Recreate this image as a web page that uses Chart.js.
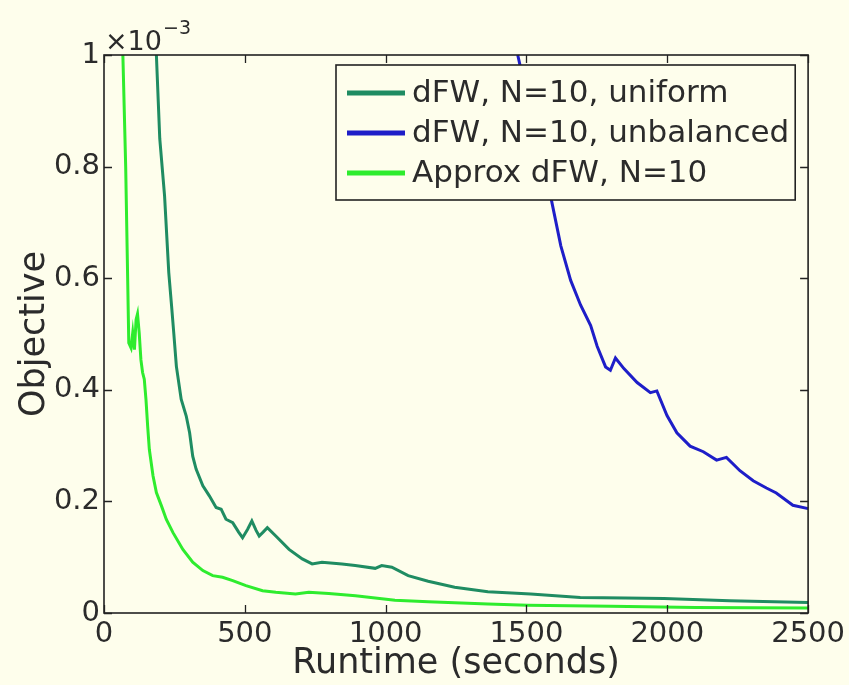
<!DOCTYPE html>
<html>
<head>
<meta charset="utf-8">
<script src="https://cdn.jsdelivr.net/npm/chart.js@4.4.1/dist/chart.umd.min.js"></script>
<style>
html,body{margin:0;padding:0;background:#fefeec;}
canvas{display:block;}
</style>
</head>
<body>
<canvas id="c" width="849" height="685"></canvas>
<script>
// ---- Data (objective values shown in units of 1e-3) ----
const seriesLabels = ['dFW, N=10, uniform', 'dFW, N=10, unbalanced', 'Approx dFW, N=10'];
const seriesColors = ['#1f8c62', '#1e1ec8', '#2eec2e'];

const runtimeUniform = [186, 198, 215, 230, 240, 248, 257, 274, 292, 304, 315, 327, 351, 374, 398, 416, 433, 457, 478, 492, 510, 525, 540, 551, 565, 580, 610, 657, 704, 739, 774, 845, 892, 963, 986, 1022, 1080, 1151, 1245, 1363, 1515, 1691, 1850, 1988, 2221, 2500];
const objUniform     = [1.0, 0.85, 0.748, 0.61, 0.55, 0.50, 0.442, 0.383, 0.353, 0.323, 0.281, 0.258, 0.228, 0.21, 0.189, 0.186, 0.168, 0.162, 0.145, 0.135, 0.15, 0.165, 0.148, 0.138, 0.145, 0.153, 0.138, 0.114, 0.097, 0.088, 0.091, 0.088, 0.085, 0.08, 0.085, 0.082, 0.067, 0.057, 0.046, 0.038, 0.034, 0.028, 0.027, 0.026, 0.022, 0.019];

const runtimeUnbalanced = [1469, 1500, 1550, 1587, 1622, 1657, 1692, 1728, 1751, 1781, 1798, 1816, 1846, 1893, 1940, 1963, 1999, 2034, 2081, 2128, 2175, 2210, 2258, 2305, 2352, 2387, 2446, 2500];
const objUnbalanced     = [1.0, 0.93, 0.83, 0.744, 0.658, 0.596, 0.552, 0.515, 0.478, 0.441, 0.435, 0.457, 0.438, 0.413, 0.395, 0.398, 0.354, 0.323, 0.299, 0.289, 0.274, 0.279, 0.255, 0.237, 0.224, 0.215, 0.193, 0.187];

const runtimeApprox = [67, 77, 84, 88, 96, 102, 108, 114, 119, 125, 131, 137, 143, 149, 155, 161, 174, 186, 204, 221, 245, 280, 315, 351, 386, 421, 457, 504, 563, 610, 680, 727, 798, 893, 1033, 1151, 1363, 1504, 1800, 2100, 2500];
const objApprox     = [1.0, 0.8, 0.6, 0.484, 0.475, 0.502, 0.472, 0.526, 0.536, 0.502, 0.454, 0.431, 0.419, 0.383, 0.335, 0.293, 0.246, 0.216, 0.192, 0.168, 0.144, 0.114, 0.091, 0.076, 0.067, 0.064, 0.058, 0.049, 0.040, 0.037, 0.034, 0.037, 0.035, 0.031, 0.023, 0.020, 0.016, 0.014, 0.012, 0.010, 0.009];

const xTickValues = [0, 500, 1000, 1500, 2000, 2500];
const yTickValues = [0, 0.2, 0.4, 0.6, 0.8, 1];
const xTitle = 'Runtime (seconds)';
const yTitle = 'Objective';
const yMultiplierBase = '×10';
const yMultiplierExp = '−3';

// ---- Styling ----
const BG = '#fefeec';
const INK = '#2b2b2b';
const FONT = '"DejaVu Sans", "Liberation Sans", sans-serif';

function pts(xs, ys){ return xs.map((v,i)=>({x:v, y:ys[i]})); }

const framePlugin = {
  id: 'frame',
  beforeDraw(chart){
    const ctx = chart.ctx;
    ctx.save();
    ctx.fillStyle = BG;
    ctx.fillRect(0, 0, chart.width, chart.height);
    ctx.restore();
  },
  afterDatasetsDraw(chart){
    const ctx = chart.ctx;
    const a = chart.chartArea;
    const xs = chart.scales.x, ys = chart.scales.y;
    ctx.save();
    ctx.strokeStyle = '#222';
    ctx.lineWidth = 1.6;
    ctx.strokeRect(a.left, a.top, a.right - a.left, a.bottom - a.top);
    ctx.beginPath();
    xs.ticks.forEach(t => {
      const px = Math.round(xs.getPixelForValue(t.value)) + 0.5;
      ctx.moveTo(px, a.bottom); ctx.lineTo(px, a.bottom - 8);
      ctx.moveTo(px, a.top); ctx.lineTo(px, a.top + 8);
    });
    ys.ticks.forEach(t => {
      const py = Math.round(ys.getPixelForValue(t.value)) + 0.5;
      ctx.moveTo(a.left, py); ctx.lineTo(a.left + 8, py);
      ctx.moveTo(a.right, py); ctx.lineTo(a.right - 8, py);
    });
    ctx.lineWidth = 1.3;
    ctx.stroke();

    // legend
    const ds = chart.data.datasets;
    ctx.font = '31px ' + FONT;
    let maxW = 0;
    ds.forEach(d => { maxW = Math.max(maxW, ctx.measureText(d.label).width); });
    const bx = a.left + 232, by = a.top + 10;
    const lineLen = 58, padL = 11, gap = 7;
    const bw = padL + lineLen + gap + maxW + 6;
    const bh = 135;
    ctx.fillStyle = BG;
    ctx.fillRect(bx, by, bw, bh);
    ctx.strokeStyle = '#222';
    ctx.lineWidth = 1.6;
    ctx.strokeRect(bx, by, bw, bh);
    ds.forEach((d, i) => {
      const cy = by + 28 + i * 40;
      ctx.beginPath();
      ctx.strokeStyle = d.borderColor;
      ctx.lineWidth = 5;
      ctx.moveTo(bx + padL, cy); ctx.lineTo(bx + padL + lineLen, cy);
      ctx.stroke();
      ctx.fillStyle = INK;
      ctx.textBaseline = 'middle';
      ctx.textAlign = 'left';
      ctx.fillText(d.label, bx + padL + lineLen + gap, cy + 1);
    });

    // x10^-3 multiplier
    ctx.fillStyle = INK;
    ctx.textBaseline = 'alphabetic';
    ctx.textAlign = 'left';
    ctx.font = '27px ' + FONT;
    const mx = a.left + 1, my = a.top - 5;
    ctx.fillText(yMultiplierBase, mx, my);
    const w = ctx.measureText(yMultiplierBase).width;
    ctx.font = '19px ' + FONT;
    ctx.fillText(yMultiplierExp, mx + w + 1, my - 16);
    ctx.restore();
  }
};

function fmt(v){ return String(Math.round(v * 10) / 10); }

new Chart(document.getElementById('c'), {
  type: 'line',
  data: {
    datasets: [
      { label: seriesLabels[0], data: pts(runtimeUniform, objUniform), borderColor: seriesColors[0] },
      { label: seriesLabels[1], data: pts(runtimeUnbalanced, objUnbalanced), borderColor: seriesColors[1] },
      { label: seriesLabels[2], data: pts(runtimeApprox, objApprox), borderColor: seriesColors[2] }
    ].map(d => Object.assign(d, { borderWidth: 3, pointRadius: 0, tension: 0, fill: false, clip: 2 }))
  },
  options: {
    responsive: false,
    animation: false,
    devicePixelRatio: 1,
    layout: { padding: { top: 55, right: 36, left: 0, bottom: 0 } },
    plugins: { legend: { display: false }, tooltip: { enabled: false } },
    scales: {
      x: {
        type: 'linear', min: xTickValues[0], max: xTickValues[xTickValues.length - 1],
        grid: { display: false, drawTicks: false },
        border: { display: false },
        afterBuildTicks(s){ s.ticks = xTickValues.map(v => ({ value: v })); },
        ticks: { maxRotation: 0, padding: 4, color: INK, font: { family: FONT, size: 29 }, callback: v => String(v) },
        title: { display: true, text: xTitle, color: INK, font: { family: FONT, size: 35 }, padding: { top: 0, bottom: 0 } },
        afterFit(s){ s.height = 72; }
      },
      y: {
        type: 'linear', min: yTickValues[0], max: yTickValues[yTickValues.length - 1],
        grid: { display: false, drawTicks: false },
        border: { display: false },
        afterBuildTicks(s){ s.ticks = yTickValues.map(v => ({ value: v })); },
        ticks: { padding: 4, color: INK, font: { family: FONT, size: 29 }, callback: v => fmt(v) },
        title: { display: true, text: yTitle, color: INK, font: { family: FONT, size: 35 }, padding: { top: 14, bottom: 0 } },
        afterFit(s){ s.width = 104; }
      }
    }
  },
  plugins: [framePlugin]
});
</script>
</body>
</html>
